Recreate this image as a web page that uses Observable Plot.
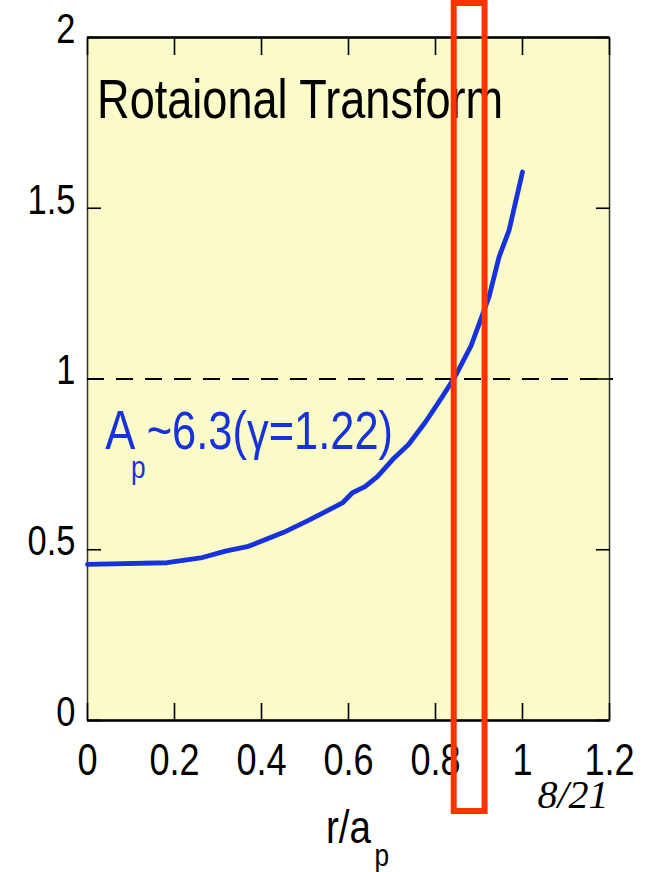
<!DOCTYPE html>
<html>
<head>
<meta charset="utf-8">
<script src="https://cdn.jsdelivr.net/npm/d3@7"></script>
<script src="https://cdn.jsdelivr.net/npm/@observablehq/plot@0.6"></script>
<style>
  html, body { margin: 0; padding: 0; background: #ffffff; }
</style>
</head>
<body>
<div id="chart"></div>
<script>
// Normalised minor radius r/a_p and the rotational transform profile
const radius = [0, 0.183, 0.260, 0.317, 0.370, 0.451, 0.508, 0.586, 0.609, 0.638, 0.667,
                0.705, 0.738, 0.777, 0.815, 0.844, 0.882, 0.903, 0.923, 0.946, 0.969, 1.0];
const iota   = [0.457, 0.462, 0.476, 0.496, 0.510, 0.551, 0.586, 0.637, 0.667, 0.685, 0.715,
                0.769, 0.808, 0.874, 0.947, 1.005, 1.098, 1.171, 1.240, 1.357, 1.435, 1.606];

// Axis ticks
const xTicks = [0, 0.2, 0.4, 0.6, 0.8, 1, 1.2];
const yTicks = [0, 0.5, 1, 1.5, 2];

// Rational surface iota = 1 and the highlighted radial band around it
const resonance = [1];
const band = [{from: 0.843, to: 0.914}];

const profile = radius.map((r, i) => ({r, iota: iota[i]}));

const SANS = "'Liberation Sans', Arial, sans-serif";
const BLUE = "#1632dc";
const PAGE = "8/21";

const chart = Plot.plot({
  width: 650,
  height: 872,
  marginLeft: 87,
  marginRight: 41,
  marginTop: 37,
  marginBottom: 152,
  style: {fontFamily: SANS, background: "#ffffff", color: "#000"},
  x: {domain: [0, 1.2], label: null},
  y: {domain: [0, 2], label: null},
  marks: [
    Plot.frame({fill: "#fbfbc9", stroke: null}),
    Plot.frame({stroke: "#333", strokeWidth: 1.5}),
    Plot.ruleY([0, 2], {stroke: "#000", strokeWidth: 2.5}),

    // inward ticks on all four sides
    Plot.axisX({anchor: "bottom", ticks: xTicks, tickSize: -17, strokeWidth: 1.6, tickFormat: () => "", label: null}),
    Plot.axisX({anchor: "top", ticks: xTicks, tickSize: -17, strokeWidth: 1.6, tickFormat: () => "", label: null}),
    Plot.axisY({anchor: "left", ticks: yTicks, tickSize: -14, strokeWidth: 1.6, tickFormat: () => "", label: null}),
    Plot.axisY({anchor: "right", ticks: yTicks, tickSize: -14, strokeWidth: 1.6, tickFormat: () => "", label: null}),

    // tick labels
    Plot.axisX({anchor: "bottom", ticks: xTicks, tickSize: 0, tickPadding: 23, fontSize: 44,
                tickFormat: d => String(d), label: null}),
    Plot.axisY({anchor: "left", ticks: yTicks, tickSize: 0, tickPadding: 12, fontSize: 42, dy: -8,
                tickFormat: d => String(d), label: null}),

    // iota = 1 reference
    Plot.ruleY(resonance, {stroke: "#000", strokeWidth: 2, strokeDasharray: "17,12", insetRight: -4}),

    // rotational transform profile
    Plot.line(profile, {x: "r", y: "iota", stroke: BLUE, strokeWidth: 4.8, strokeLinejoin: "round"}),

    // panel title and aspect-ratio annotation
    Plot.text(["Rotaional Transform"], {x: 0.022, y: 1.763, textAnchor: "start", lineAnchor: "bottom",
                fontSize: 55, fill: "#000"}),
    Plot.text(["A"], {x: 0.041, y: 0.796, textAnchor: "start", lineAnchor: "bottom", fontSize: 55, fill: BLUE}),
    Plot.text(["p"], {x: 0.100, y: 0.709, textAnchor: "start", lineAnchor: "bottom", fontSize: 32, fill: BLUE}),
    Plot.text(["~6.3(\u03b3=1.22)"], {x: 0.136, y: 0.796, textAnchor: "start", lineAnchor: "bottom",
                fontSize: 53, fill: BLUE}),

    // x-axis title r/a_p
    Plot.text(["r/a"], {frameAnchor: "bottom", dy: 122, textAnchor: "middle", lineAnchor: "bottom", fontSize: 47}),
    Plot.text(["p"], {frameAnchor: "bottom", dx: 26, dy: 145, textAnchor: "start", lineAnchor: "bottom", fontSize: 32}),

    // page number
    Plot.text([PAGE], {frameAnchor: "bottom-right", dx: -1, dy: 87, textAnchor: "end", lineAnchor: "bottom",
                fontSize: 40, fontStyle: "italic", fontFamily: "'Liberation Serif', 'Times New Roman', serif"}),

    // highlighted band
    Plot.rect(band, {x1: "from", x2: "to", fill: "none", stroke: "#ff3300", strokeWidth: 6,
                     insetTop: -34, insetBottom: -91})
  ]
});

document.getElementById("chart").appendChild(chart);

// Set the sans-serif labels in a narrow face by condensing each glyph run horizontally
chart.querySelectorAll("text").forEach(t => {
  if (t.textContent === PAGE || !t.textContent) return;
  const len = t.getComputedTextLength();
  if (len > 0) {
    t.setAttribute("textLength", (len * 0.82).toFixed(2));
    t.setAttribute("lengthAdjust", "spacingAndGlyphs");
  }
});
</script>
</body>
</html>
